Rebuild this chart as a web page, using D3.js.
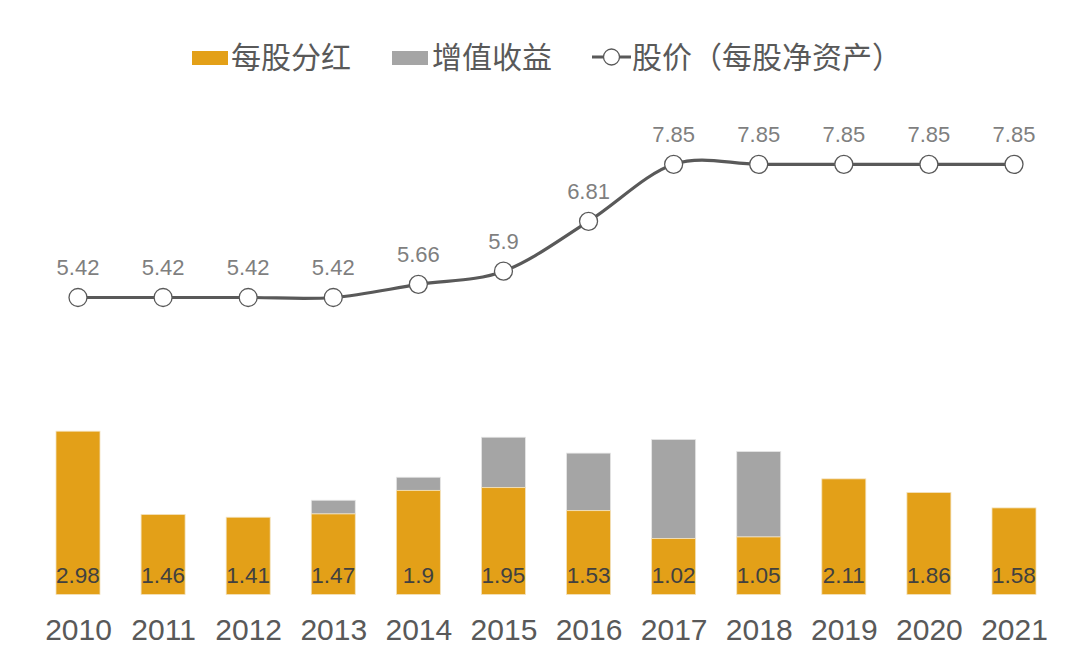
<!DOCTYPE html>
<html><head><meta charset="utf-8">
<script src="https://cdn.jsdelivr.net/npm/d3@7"></script>
<style>
body{margin:0;background:#fff;}
svg{display:block;font-family:"Liberation Sans","Noto Sans CJK SC",Arial,sans-serif;}
</style></head>
<body><svg id="c" width="1080" height="661"></svg>
<script>
const years = ["2010","2011","2012","2013","2014","2015","2016","2017","2018","2019","2020","2021"];
const dividend = [2.98,1.46,1.41,1.47,1.9,1.95,1.53,1.02,1.05,2.11,1.86,1.58];
const gain = [0,0,0,0.25,0.24,0.92,1.05,1.81,1.56,0,0,0];
const price = [5.42,5.42,5.42,5.42,5.66,5.9,6.81,7.85,7.85,7.85,7.85,7.85];
const legendLabels = ["每股分红","增值收益","股价（每股净资产）"];

const svg = d3.select("#c");
const x = d3.scalePoint().domain(years).range([78,1014]);
const y = d3.scaleLinear().domain([0,8]).range([594.5,594.5-8*54.8]);
const bw = 44;
const orange = "#E3A018", gray = "#A5A5A5", lineC = "#595959";

const rows = years.map((yr,i)=>({yr, d:dividend[i], g:gain[i], p:price[i]}));

// bars
svg.append("g").selectAll("rect.g").data(rows.filter(r=>r.g>0)).join("rect")
  .attr("x", r=>x(r.yr)-bw/2).attr("width", bw)
  .attr("y", r=>y(r.d+r.g)).attr("height", r=>y(r.d)-y(r.d+r.g))
  .attr("fill", gray).attr("stroke","#e6e6e6").attr("stroke-width",0.8);
svg.append("g").selectAll("rect.d").data(rows).join("rect")
  .attr("x", r=>x(r.yr)-bw/2).attr("width", bw)
  .attr("y", r=>y(r.d)).attr("height", r=>y(0)-y(r.d))
  .attr("fill", orange).attr("stroke","#f3e2bd").attr("stroke-width",0.8);

// bar labels
svg.append("g").selectAll("text").data(rows).join("text")
  .attr("x", r=>x(r.yr)).attr("y", 583)
  .attr("text-anchor","middle").attr("font-size",22.5).attr("fill","#404040")
  .text(r=>r.d);

// line
const line = d3.line().x(r=>x(r.yr)).y(r=>y(r.p)).curve(d3.curveCatmullRom.alpha(0));
svg.append("path").datum(rows).attr("d", line)
  .attr("fill","none").attr("stroke",lineC).attr("stroke-width",3.2);
svg.append("g").selectAll("circle").data(rows).join("circle")
  .attr("cx", r=>x(r.yr)).attr("cy", r=>y(r.p)).attr("r",9)
  .attr("fill","#fff").attr("stroke",lineC).attr("stroke-width",1.3);
svg.append("g").selectAll("text").data(rows).join("text")
  .attr("x", r=>x(r.yr)).attr("y", r=>y(r.p)-22)
  .attr("text-anchor","middle").attr("font-size",22).attr("fill","#7f7f7f")
  .text(r=>r.p);

// x axis
const ax = svg.append("g").attr("transform",`translate(0,${y(0)})`)
  .call(d3.axisBottom(x).tickSize(0).tickPadding(24));
ax.select(".domain").remove();
ax.selectAll("text").attr("font-size",30).attr("fill","#595959")
  .attr("font-family",'"Liberation Sans",Arial,sans-serif');

// legend
const lg = svg.append("g");
lg.append("rect").attr("x",192).attr("y",51).attr("width",36).attr("height",14).attr("fill",orange);
lg.append("text").attr("x",231).attr("y",68).attr("font-size",30).attr("fill","#595959").text(legendLabels[0]);
lg.append("rect").attr("x",392).attr("y",51).attr("width",36).attr("height",14).attr("fill",gray);
lg.append("text").attr("x",432).attr("y",68).attr("font-size",30).attr("fill","#595959").text(legendLabels[1]);
lg.append("line").attr("x1",592).attr("x2",631).attr("y1",57).attr("y2",57).attr("stroke",lineC).attr("stroke-width",3.2);
lg.append("circle").attr("cx",611.5).attr("cy",57).attr("r",8).attr("fill","#fff").attr("stroke",lineC).attr("stroke-width",1.3);
lg.append("text").attr("x",632).attr("y",68).attr("font-size",30).attr("fill","#595959").text(legendLabels[2]);
</script></body></html>
